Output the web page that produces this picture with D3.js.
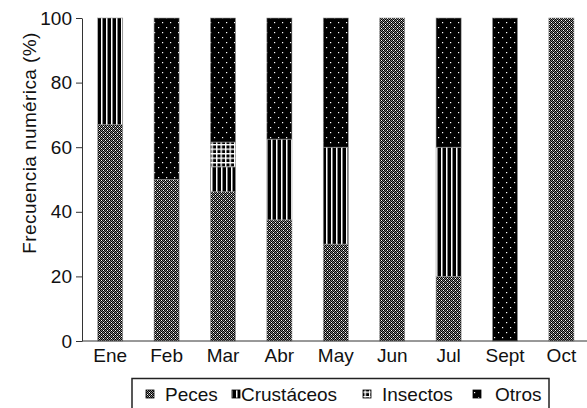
<!DOCTYPE html>
<html>
<head>
<meta charset="utf-8">
<script src="https://cdn.jsdelivr.net/npm/d3@7"></script>
<style>
  body { margin: 0; background: #fff; }
  text { font-family: "Liberation Sans", Arial, sans-serif; }
</style>
</head>
<body>
<div id="chart"></div>
<script>
// datos
var meses = ["Ene", "Feb", "Mar", "Abr", "May", "Jun", "Jul", "Sept", "Oct"];
var peces      = [67, 50, 46.2, 37.5, 30, 100, 20, 0, 100];
var crustaceos = [33, 0, 7.7, 25, 30, 0, 40, 0, 0];
var insectos   = [0, 0, 7.7, 0, 0, 0, 0, 0, 0];
var otros      = [0, 50, 38.4, 37.5, 40, 0, 40, 100, 0];
var grupos = ["Peces", "Crustáceos", "Insectos", "Otros"];
var yTicks = [0, 20, 40, 60, 80, 100];

var W = 587, H = 408;
var margin = { top: 18, left: 82, bottom: 67 };
var height = H - margin.top - margin.bottom;
var fs = 19;

var data = meses.map(function(m, i) {
    return { mes: m, Peces: peces[i], "Crustáceos": crustaceos[i], Insectos: insectos[i], Otros: otros[i] };
});

var svg = d3.select("#chart").append("svg")
    .attr("width", W)
    .attr("height", H);

// patrones de relleno
var defs = svg.append("defs");

var p1 = defs.append("pattern").attr("id", "pat0")
    .attr("patternUnits", "userSpaceOnUse").attr("width", 4).attr("height", 4);
p1.append("rect").attr("width", 4).attr("height", 4).attr("fill", "#858585");
[[0,0],[2,0],[1,1],[3,1],[0,2],[2,2],[1,3],[3,3]].forEach(function(p) {
    p1.append("rect").attr("x", p[0]).attr("y", p[1]).attr("width", 1).attr("height", 1).attr("fill", "#000");
});
[[1,0],[3,2]].forEach(function(p) {
    p1.append("rect").attr("x", p[0]).attr("y", p[1]).attr("width", 1).attr("height", 1).attr("fill", "#fff");
});

var p2 = defs.append("pattern").attr("id", "pat1")
    .attr("patternUnits", "userSpaceOnUse").attr("width", 5).attr("height", 5);
p2.append("rect").attr("width", 5).attr("height", 5).attr("fill", "#000");
p2.append("rect").attr("x", 1).attr("width", 1.5).attr("height", 5).attr("fill", "#fff");

var p3 = defs.append("pattern").attr("id", "pat2")
    .attr("patternUnits", "userSpaceOnUse").attr("width", 4.5).attr("height", 4.5);
p3.append("rect").attr("width", 4.5).attr("height", 4.5).attr("fill", "#fff");
p3.append("rect").attr("x", 1.4).attr("y", 1.4).attr("width", 3.1).attr("height", 3.1).attr("fill", "#000");

var p4 = defs.append("pattern").attr("id", "pat3")
    .attr("patternUnits", "userSpaceOnUse").attr("width", 8).attr("height", 10);
p4.append("rect").attr("width", 8).attr("height", 10).attr("fill", "#000");
p4.append("rect").attr("x", 2).attr("y", 2).attr("width", 1.2).attr("height", 1.2).attr("fill", "#fff");
p4.append("rect").attr("x", 6).attr("y", 7).attr("width", 1.2).attr("height", 1.2).attr("fill", "#fff");

var x = d3.scaleBand()
    .domain(meses)
    .range([margin.left, margin.left + 9 * 56.4])
    .paddingInner(0.555)
    .paddingOuter(0.2775);

var y = d3.scaleLinear()
    .domain([0, 100])
    .range([margin.top + height, margin.top]);

var series = d3.stack().keys(grupos)(data);

var g = svg.append("g");
series.forEach(function(s, k) {
    g.selectAll(".b" + k)
        .data(s.filter(function(d) { return d[1] - d[0] > 0; }))
        .enter()
        .append("rect")
        .attr("x", function(d) { return x(d.data.mes); })
        .attr("width", x.bandwidth())
        .attr("y", function(d) { return y(d[1]); })
        .attr("height", function(d) { return y(d[0]) - y(d[1]); })
        .attr("fill", "url(#pat" + k + ")")
        .attr("stroke", "#999")
        .attr("stroke-width", 0.6);
});

// eje y
var yAxis = svg.append("g")
    .attr("transform", "translate(" + margin.left + ",0)")
    .call(d3.axisLeft(y).tickValues(yTicks).tickSize(6).tickPadding(4).tickSizeOuter(0));
yAxis.selectAll("text").attr("font-size", fs).attr("fill", "#111").style("font-family", "Liberation Sans, Arial");
yAxis.select(".domain").attr("stroke", "#333");
yAxis.selectAll("line").attr("stroke", "#333");

// eje x
var xAxis = svg.append("g")
    .attr("transform", "translate(0," + (margin.top + height) + ")")
    .call(d3.axisBottom(x).tickSize(0).tickPadding(8));
xAxis.select(".domain").attr("d", "M" + margin.left + ",0H" + W).attr("stroke", "#333");
xAxis.selectAll("text").attr("font-size", fs).attr("fill", "#111").style("font-family", "Liberation Sans, Arial");

svg.append("text")
    .attr("transform", "translate(36," + 143 + ") rotate(-90)")
    .attr("text-anchor", "middle")
    .attr("font-size", fs)
    .attr("letter-spacing", 0.4)
    .attr("fill", "#111")
    .text("Frecuencia numérica (%)");

// leyenda
svg.append("rect")
    .attr("x", 132).attr("y", 378.5)
    .attr("width", 417).attr("height", 40)
    .attr("fill", "none").attr("stroke", "#222").attr("stroke-width", 1.5);

var legX = [146, 232, 363, 473];
var txtX = [165, 241, 382, 495];
grupos.forEach(function(nm, k) {
    svg.append("rect")
        .attr("x", legX[k]).attr("y", 390)
        .attr("width", 8).attr("height", 8)
        .attr("fill", "url(#pat" + k + ")")
        .attr("stroke", "#000").attr("stroke-width", 0.8);
    svg.append("text")
        .attr("x", txtX[k]).attr("y", 401)
        .attr("font-size", fs)
        .attr("fill", "#111")
        .text(nm);
});
</script>
</body>
</html>
